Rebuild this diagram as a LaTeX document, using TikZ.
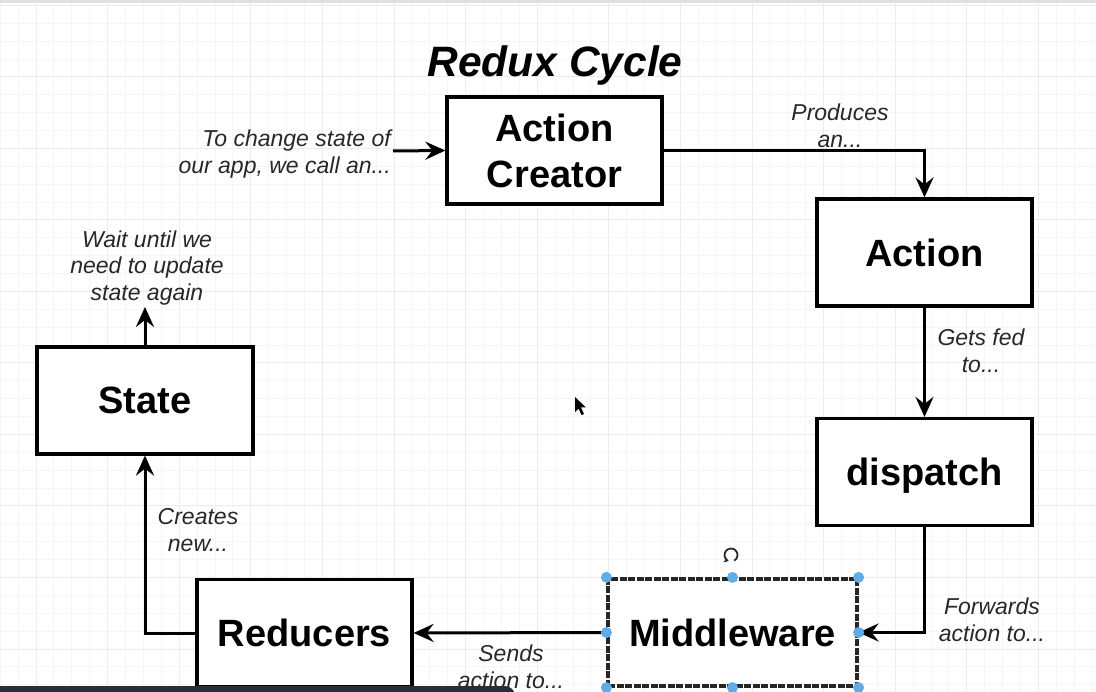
\documentclass[tikz,border=0pt]{standalone}
\usepackage{fontspec}
\setmainfont{Liberation Sans}
\usetikzlibrary{arrows.meta}
\definecolor{minorg}{RGB}{245,245,245}
\definecolor{majorg}{RGB}{236,236,236}
\definecolor{labelc}{RGB}{40,40,40}
\definecolor{handlec}{RGB}{96,172,232}
\definecolor{barc}{RGB}{40,45,54}
\tikzset{
  minorgrid/.style={draw=minorg, line width=1pt},
  majorgrid/.style={draw=majorg, line width=1pt},
  box/.style={draw=black, line width=3.2pt, fill=white, minimum width=215pt, minimum height=107pt,
    inner sep=0pt, align=center, font=\fontsize{38}{46}\selectfont\bfseries},
  conn/.style={draw=black, line width=3pt, -{Stealth[length=20pt,width=18pt,inset=7pt]}},
  lbl/.style={align=center, text=labelc, inner sep=0pt, font=\fontsize{23}{26.5}\selectfont\itshape},
  handle/.style={fill=handlec, draw=none}
}
\begin{document}
\begin{tikzpicture}[x=1pt,y=-1pt]
\useasboundingbox (0,0) rectangle (1096,692);
\fill[white] (0,0) rectangle (1096,692);
\begin{scope}
\clip (0,0) rectangle (1096,692);
% grid
\foreach \i in {-2,...,60} {\draw[minorgrid] ({36+17.9*\i},0) -- ({36+17.9*\i},692);}
\foreach \i in {0,...,39} {\draw[minorgrid] (0,{5.5+17.875*\i}) -- (1096,{5.5+17.875*\i});}
\foreach \i in {0,...,15} {\draw[majorgrid] ({36+71.6*\i},0) -- ({36+71.6*\i},692);}
\foreach \i in {0,...,9} {\draw[majorgrid] (0,{5.5+71.5*\i}) -- (1096,{5.5+71.5*\i});}
\fill[black!12] (0,0) rectangle (1096,3);
\end{scope}

% title
\node[inner sep=0pt, font=\fontsize{42.5}{48}\selectfont\bfseries\itshape] (title) at (555,66) {Redux Cycle};

% boxes
\node[box] (ac) at (554.5,150.5) {Action\\Creator};
\node[box] (act) at (924.5,252.5) {Action};
\node[box, text depth=0pt] (disp) at (924.5,472) {dispatch};
\node[box, minimum width=249pt, draw=black!85, dash pattern=on 7pt off 1.5pt] (mw) at (732.5,632.5) {Middleware};
\node[box] (red) at (304.5,633) {Reducers};
\node[box, minimum width=216pt] (state) at (145,400.5) {State};

% free ends
\coordinate (startc) at (393,151);
\coordinate (waitc) at (145,307);

% connectors
\draw[conn] (startc) -- (ac.west);
\draw[conn] (ac.east) -| (act.north);
\draw[conn] (act.south) -- (disp.north);
\draw[conn] (disp.south) |- (mw.east);
\draw[conn] (mw.west) -- (red.east);
\draw[conn] (red.west) -| (state.south);
\draw[conn] (state.north) -- (waitc);

% labels
\node[lbl, align=right, anchor=east] (l1) at (391,154) {To change state of\\our app, we call an...};
\node[lbl] (l2) at (840,126) {Produces\\an...};
\node[lbl] (l3) at (981,351) {Gets fed\\to...};
\node[lbl] (l4) at (992,620) {Forwards\\action to...};
\node[lbl] (l5) at (511,667) {Sends\\action to...};
\node[lbl] (l6) at (198,530) {Creates\\new...};
\node[lbl] (l7) at (147,268) {Wait until we\\need to update\\state again};

% selection handles on Middleware
\foreach \p in {mw.north west, mw.north, mw.north east, mw.west, mw.east, mw.south west, mw.south, mw.south east}
  {\fill[handle] (\p) circle (5.5pt);}

% rotate icon
\draw[labelc, line width=1.8pt, -{Stealth[length=5pt,width=6pt]}] (731,555) ++(-60:6.5pt) arc[start angle=-60, end angle=250, radius=6.5pt];

% mouse cursor
\fill[black] (575,397) -- (575,412) -- (578.5,408.5) -- (581.5,415) -- (584,414) -- (581,407.5) -- (586,407.5) -- cycle;

% bottom dark bar
\fill[barc, rounded corners=10pt] (-20,686) rectangle (515,710);
\end{tikzpicture}
\end{document}
